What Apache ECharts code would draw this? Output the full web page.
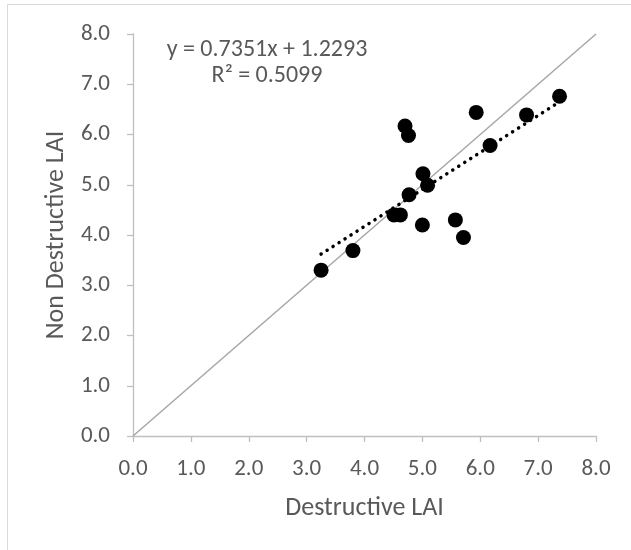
<!DOCTYPE html>
<html><head><meta charset="utf-8">
<script src="https://cdn.jsdelivr.net/npm/echarts@6/dist/echarts.min.js"></script>
<style>html,body{margin:0;padding:0;background:#fff}#c{width:631px;height:550px}</style>
</head><body><div id="c"></div>
<script>
var destructiveLAI = [7.37, 6.80, 5.93, 4.70, 4.76, 6.17, 5.01, 5.09, 4.77, 4.51, 4.62, 5.00, 5.57, 5.71, 3.80, 3.25];
var nonDestructiveLAI = [6.76, 6.39, 6.44, 6.17, 5.98, 5.78, 5.22, 4.99, 4.80, 4.40, 4.40, 4.20, 4.30, 3.95, 3.69, 3.30];
var oneToOneLine = [[0, 0], [8, 8]];
var trendLine = [[3.25, 3.62], [7.37, 6.65]];
var tickLabels = ['0.0','1.0','2.0','3.0','4.0','5.0','6.0','7.0','8.0'];
var equationText = 'y = 0.7351x + 1.2293';
var r2Text = 'R² = 0.5099';

var FONT = "Carlito, 'Liberation Sans Narrow', 'Open Sans', sans-serif";
var points = destructiveLAI.map(function (x, i) { return [x, nonDestructiveLAI[i]]; });
var chart = echarts.init(document.getElementById('c'), null, {renderer: 'canvas'});
function axisCommon(name, gap, isY) {
  return {
    type: 'value', min: 0, max: 8, interval: 1,
    name: name, nameLocation: 'middle', nameGap: gap,
    nameTextStyle: {fontFamily: FONT, fontSize: 26, color: '#595959'},
    axisLine: {show: true, lineStyle: {color: '#bfbfbf', width: 1.3}},
    axisTick: {show: true, length: 6, lineStyle: {color: '#bfbfbf', width: 1.3}},
    splitLine: {show: false},
    axisLabel: {fontFamily: FONT, fontSize: 23, color: '#595959', margin: isY ? 23 : 22,
      formatter: function (v) { return tickLabels[Math.round(v)]; }}
  };
}
chart.setOption({
  animation: false,
  backgroundColor: '#fff',
  grid: {left: 133, right: 35, top: 34, bottom: 114, containLabel: false},
  xAxis: axisCommon('Destructive LAI', 59, false),
  yAxis: axisCommon('Non Destructive LAI', 62, true),
  graphic: [
    {type: 'line', shape: {x1: 7.5, y1: 4.5, x2: 7.5, y2: 560}, style: {stroke: '#d9d9d9', lineWidth: 1}},
    {type: 'line', shape: {x1: 7.5, y1: 4.5, x2: 640, y2: 4.5}, style: {stroke: '#d9d9d9', lineWidth: 1}},
    {type: 'text', x: 267, y: 50, style: {text: equationText, font: '24px ' + FONT, fill: '#595959', align: 'center', verticalAlign: 'middle'}},
    {type: 'text', x: 267, y: 76, style: {text: r2Text, font: '24px ' + FONT, fill: '#595959', align: 'center', verticalAlign: 'middle'}}
  ],
  series: [
    {type: 'line', data: oneToOneLine, symbol: 'none', lineStyle: {color: '#a6a6a6', width: 1.5}, z: 1},
    {type: 'line', data: trendLine, symbol: 'none', lineStyle: {color: '#000', width: 3.5, type: [0.1, 7], cap: 'round'}, z: 2},
    {type: 'scatter', data: points, symbol: 'circle', symbolSize: 15, itemStyle: {color: '#000', opacity: 1}, z: 3}
  ]
});
</script></body></html>
